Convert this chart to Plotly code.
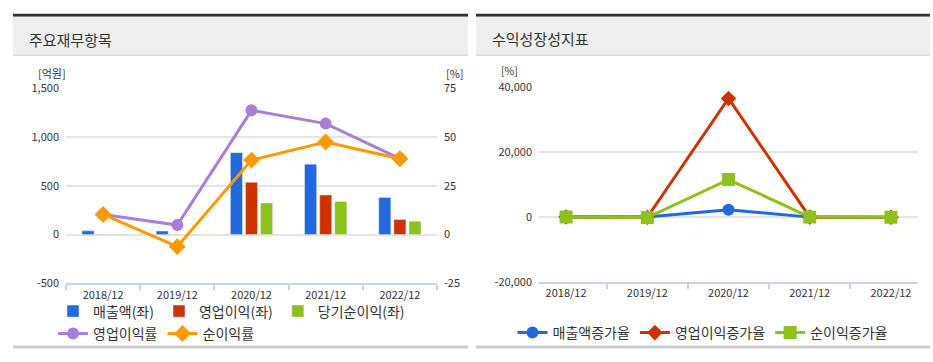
import plotly.graph_objects as go

# ---------------- data ----------------
years = ["2018/12", "2019/12", "2020/12", "2021/12", "2022/12"]

revenue = [38, 36, 840, 722, 380]          # 매출액 (억원)
op_income = [4, 2, 536, 406, 154]          # 영업이익 (억원)
net_income = [4, -2, 324, 340, 137]        # 당기순이익 (억원)
op_margin = [10.3, 4.9, 63.7, 56.9, 39.0]  # 영업이익률 (%)
net_margin = [10.3, -6.2, 38.2, 47.5, 38.9]  # 순이익률 (%)

rev_growth = [15, -5, 2250, -14, -47]      # 매출액증가율 (%)
op_growth = [20, -50, 36500, -24, -62]     # 영업이익증가율 (%)
net_growth = [20, -150, 11550, 5, -60]     # 순이익증가율 (%)

left_tickvals = [-500, 0, 500, 1000, 1500]
left_ticktext = ["-500", "0", "500", "1,000", "1,500"]
pct_tickvals = [-25, 0, 25, 50, 75]
pct_ticktext = ["-25", "0", "25", "50", "75"]
growth_tickvals = [-20000, 0, 20000, 40000]
growth_ticktext = ["-20,000", "0", "20,000", "40,000"]

# ---------------- style ----------------
W, H = 933, 362
FONT = "Noto Sans CJK KR, Noto Sans, sans-serif"
TXT = "#333333"
BLUE = "#2368dc"
RED = "#cc3300"
GREEN = "#8cc21a"
PURPLE = "#a77fdb"
ORANGE = "#ff9900"
GRID = "#e4e4e4"
AXLINE = "#c9d5e4"


def px(x):
    return x / W


def py(y):
    return 1 - y / H


fig = go.Figure()

# left chart bars
fig.add_trace(go.Bar(x=years, y=revenue, name="매출액(좌)", marker_color=BLUE,
                     xaxis="x", yaxis="y", legend="legend"))
fig.add_trace(go.Bar(x=years, y=op_income, name="영업이익(좌)", marker_color=RED,
                     xaxis="x", yaxis="y", legend="legend"))
fig.add_trace(go.Bar(x=years, y=net_income, name="당기순이익(좌)", marker_color=GREEN,
                     xaxis="x", yaxis="y", legend="legend"))
# left chart lines (right axis)
fig.add_trace(go.Scatter(x=years, y=op_margin, name="영업이익률", mode="lines+markers",
                         line=dict(color=PURPLE, width=3),
                         marker=dict(symbol="circle", size=12, color=PURPLE),
                         xaxis="x", yaxis="y2", legend="legend2"))
fig.add_trace(go.Scatter(x=years, y=net_margin, name="순이익률", mode="lines+markers",
                         line=dict(color=ORANGE, width=3),
                         marker=dict(symbol="diamond", size=13, color=ORANGE),
                         xaxis="x", yaxis="y2", legend="legend2"))

# right chart lines
fig.add_trace(go.Scatter(x=years, y=rev_growth, name="매출액증가율", mode="lines+markers",
                         line=dict(color=BLUE, width=3),
                         marker=dict(symbol="circle", size=12, color=BLUE),
                         xaxis="x2", yaxis="y3", legend="legend3"))
fig.add_trace(go.Scatter(x=years, y=op_growth, name="영업이익증가율", mode="lines+markers",
                         line=dict(color=RED, width=3),
                         marker=dict(symbol="diamond", size=12, color=RED),
                         xaxis="x2", yaxis="y3", legend="legend3"))
fig.add_trace(go.Scatter(x=years, y=net_growth, name="순이익증가율", mode="lines+markers",
                         line=dict(color=GREEN, width=3),
                         marker=dict(symbol="square", size=13, color=GREEN),
                         xaxis="x2", yaxis="y3", legend="legend3"))

tickfont = dict(family=FONT, size=11, color=TXT)

xcommon = dict(type="category", showgrid=False, zeroline=False, showline=True,
               linecolor=AXLINE, linewidth=2, ticks="outside", tickson="boundaries",
               ticklen=5, tickcolor=AXLINE, tickwidth=1.5, tickfont=tickfont,
               fixedrange=True)
ycommon = dict(showgrid=True, gridcolor=GRID, gridwidth=2, zeroline=False,
               showline=False, ticks="", tickfont=tickfont, fixedrange=True,
               ticklabelstandoff=6)

shapes = []
for x0, x1 in [(13, 468), (476, 930)]:
    # dark top line
    shapes.append(dict(type="rect", xref="paper", yref="paper",
                       x0=px(x0), x1=px(x1), y0=py(8), y1=py(5),
                       fillcolor="#333333", line=dict(width=0), layer="below"))
    # header background
    shapes.append(dict(type="rect", xref="paper", yref="paper",
                       x0=px(x0), x1=px(x1), y0=py(48), y1=py(8),
                       fillcolor="#efefef", line=dict(width=0), layer="below"))
    # header bottom border
    shapes.append(dict(type="line", xref="paper", yref="paper",
                       x0=px(x0), x1=px(x1), y0=py(48.5), y1=py(48.5),
                       line=dict(color="#dcdcdc", width=1.5), layer="below"))
    # panel bottom line
    shapes.append(dict(type="line", xref="paper", yref="paper",
                       x0=px(x0), x1=px(x1), y0=py(353.5), y1=py(353.5),
                       line=dict(color="#cccccc", width=3), layer="below"))

annotations = [
    dict(text="주요재무항목", x=px(27), y=py(32), xref="paper", yref="paper",
         xanchor="left", yanchor="middle", showarrow=False,
         font=dict(family=FONT, size=15, color=TXT)),
    dict(text="수익성장성지표", x=px(490), y=py(31), xref="paper", yref="paper",
         xanchor="left", yanchor="middle", showarrow=False,
         font=dict(family=FONT, size=15, color=TXT)),
    dict(text="[억원]", x=px(52), y=py(67), xref="paper", yref="paper",
         xanchor="center", yanchor="middle", showarrow=False,
         font=dict(family=FONT, size=11, color=TXT)),
    dict(text="[%]", x=px(455), y=py(67), xref="paper", yref="paper",
         xanchor="center", yanchor="middle", showarrow=False,
         font=dict(family=FONT, size=11, color=TXT)),
    dict(text="[%]", x=px(509), y=py(64.5), xref="paper", yref="paper",
         xanchor="center", yanchor="middle", showarrow=False,
         font=dict(family=FONT, size=10.5, color=TXT)),
]

legfont = dict(family=FONT, size=14, color=TXT)

fig.update_layout(
    width=W, height=H, autosize=False,
    margin=dict(l=0, r=0, t=0, b=0),
    paper_bgcolor="white", plot_bgcolor="white",
    font=dict(family=FONT, color=TXT),
    barmode="group", bargap=0.39, bargroupgap=0.2,
    showlegend=True,
    xaxis=dict(domain=[px(66), px(437)], anchor="y", **xcommon),
    yaxis=dict(domain=[py(287), py(83)], anchor="x", range=[-500, 1500],
               tickvals=left_tickvals, ticktext=left_ticktext, **ycommon),
    yaxis2=dict(overlaying="y", side="right", anchor="x", range=[-25, 75],
                tickvals=pct_tickvals, ticktext=pct_ticktext,
                showgrid=False, zeroline=False, showline=False, ticks="",
                tickfont=tickfont, fixedrange=True, ticklabelstandoff=6),
    xaxis2=dict(domain=[px(539), px(918)], anchor="y3", **xcommon),
    yaxis3=dict(domain=[py(285.7), py(81.7)], anchor="x2", range=[-20000, 40000],
                tickvals=growth_tickvals, ticktext=growth_ticktext, **ycommon),
    legend=dict(orientation="h", x=px(53), y=py(316.5), xanchor="left", yanchor="middle",
                font=legfont, bgcolor="rgba(0,0,0,0)", itemclick=False,
                itemdoubleclick=False, tracegroupgap=0),
    legend2=dict(orientation="h", x=px(53), y=py(340), xanchor="left", yanchor="middle",
                 font=legfont, bgcolor="rgba(0,0,0,0)", itemclick=False,
                 itemdoubleclick=False),
    legend3=dict(orientation="h", x=px(703), y=py(339), xanchor="center", yanchor="middle",
                 font=legfont, bgcolor="rgba(0,0,0,0)", itemclick=False,
                 itemdoubleclick=False),
    shapes=shapes,
    annotations=annotations,
)

fig.write_html(
    "out.html",
    config={"displayModeBar": False},
    post_script="document.body.style.margin='0';document.body.style.overflow='hidden';",
)
